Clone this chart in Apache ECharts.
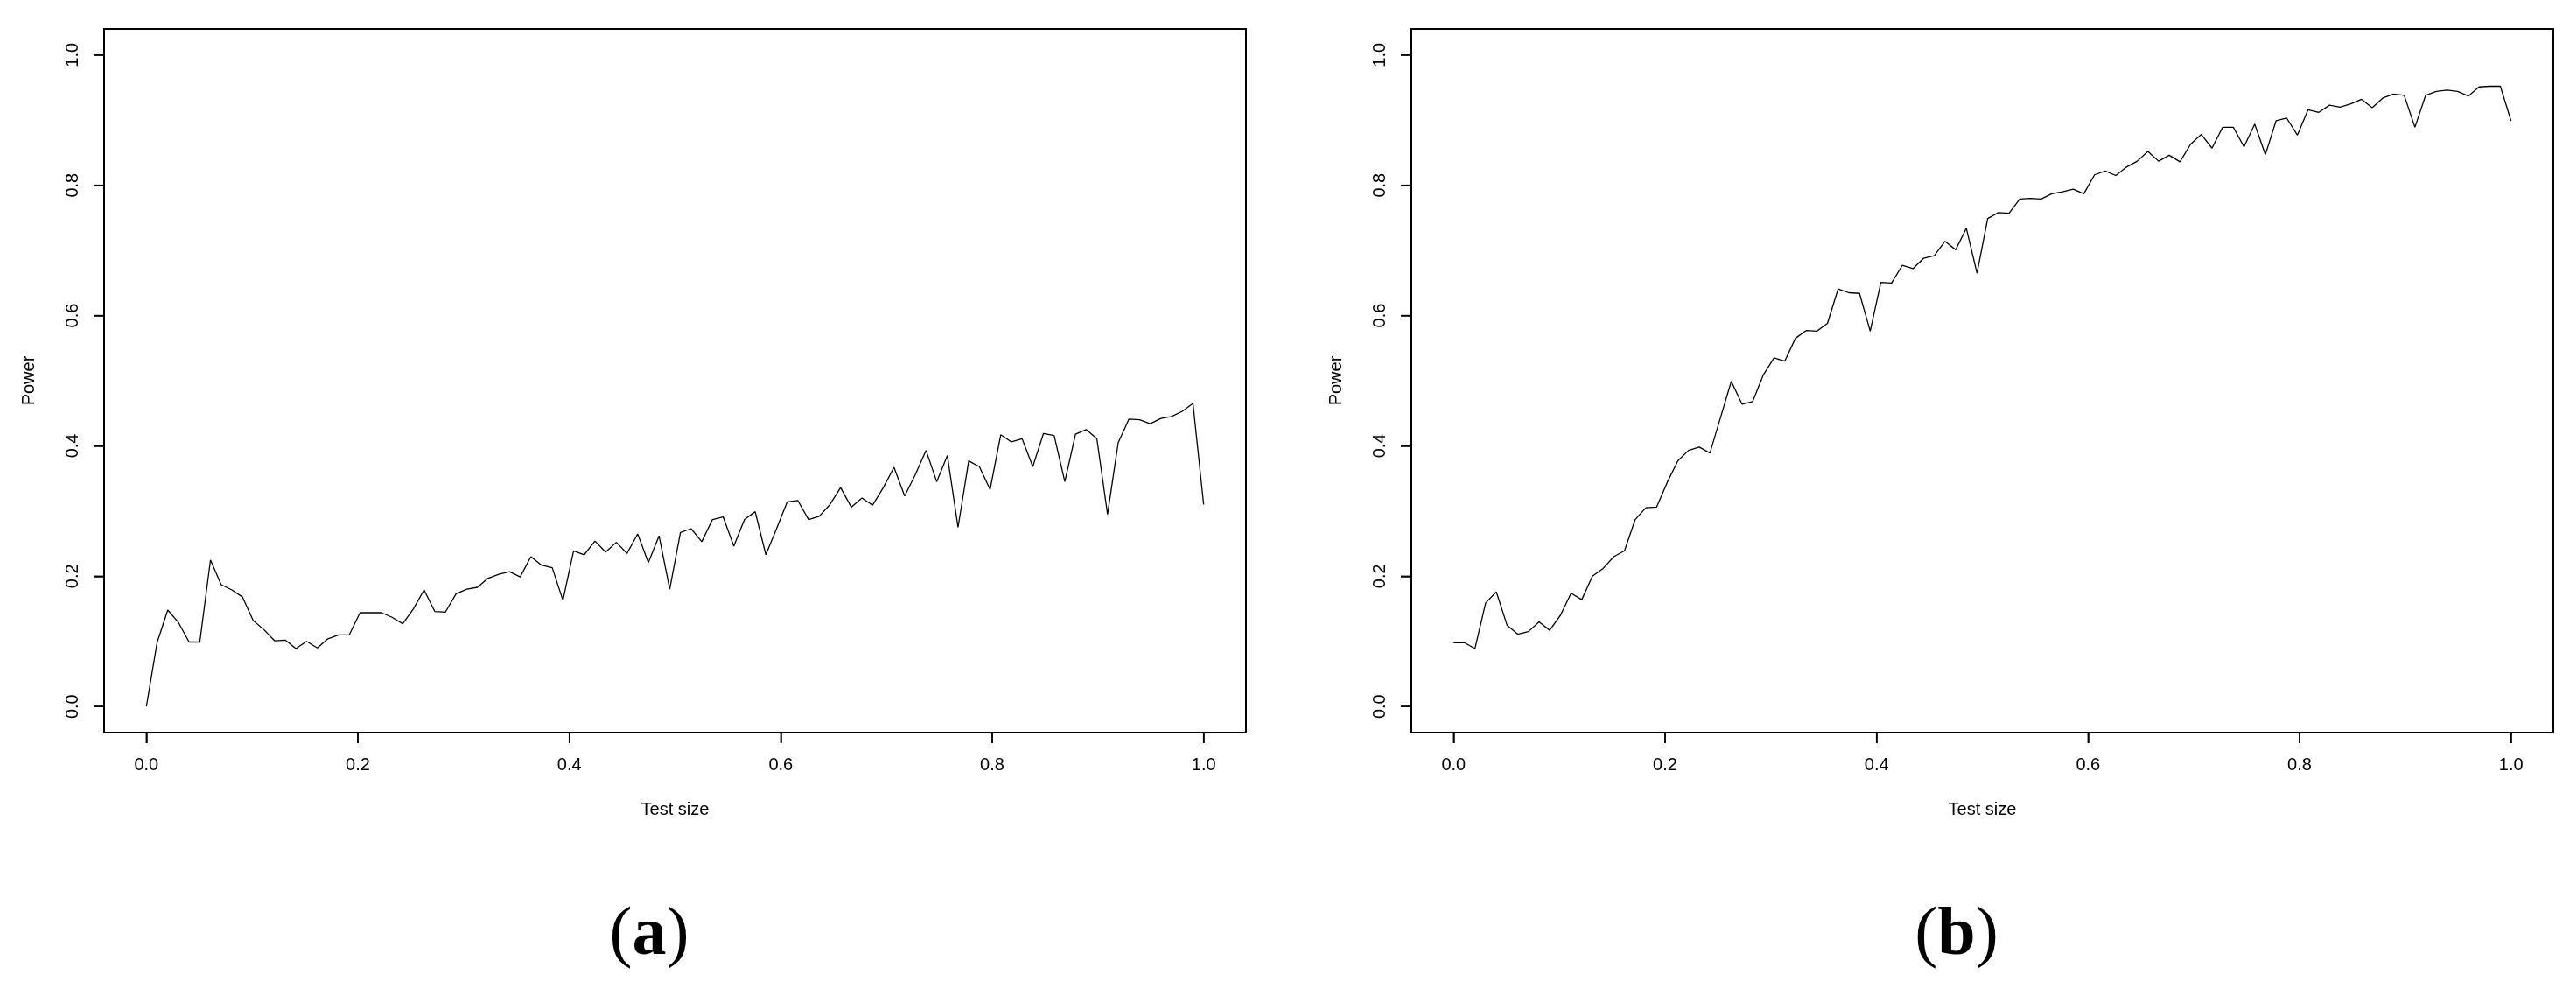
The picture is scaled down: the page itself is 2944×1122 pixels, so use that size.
<!DOCTYPE html>
<html>
<head>
<meta charset="utf-8">
<script src="https://cdn.jsdelivr.net/npm/echarts@6/dist/echarts.min.js"></script>
<style>
    html, body { margin: 0; padding: 0; background: #fff; }
    #chart { width: 2944px; height: 1122px; }
</style>
</head>
<body>
<div id="chart"></div>
<script>
// test size grid: seq(0, 1, length = 100)
const testSize = Array.from({ length: 100 }, (_, i) => i / 99)

const powerA = [
    0.000, 0.098, 0.148, 0.129, 0.099, 0.099, 0.225, 0.187, 0.179, 0.168,
    0.132, 0.118, 0.101, 0.102, 0.089, 0.100, 0.090, 0.104, 0.110, 0.110,
    0.144, 0.144, 0.144, 0.137, 0.127, 0.150, 0.179, 0.146, 0.145, 0.173,
    0.180, 0.183, 0.197, 0.203, 0.207, 0.199, 0.230, 0.217, 0.213, 0.163,
    0.239, 0.233, 0.254, 0.237, 0.252, 0.235, 0.265, 0.221, 0.262, 0.180,
    0.267, 0.273, 0.253, 0.287, 0.291, 0.246, 0.287, 0.299, 0.233, 0.273,
    0.314, 0.316, 0.287, 0.292, 0.310, 0.336, 0.306, 0.320, 0.309, 0.336,
    0.367, 0.323, 0.356, 0.393, 0.345, 0.385, 0.275, 0.377, 0.368, 0.333,
    0.417, 0.406, 0.411, 0.368, 0.419, 0.416, 0.345, 0.418, 0.425, 0.411,
    0.295, 0.405, 0.441, 0.440, 0.434, 0.442, 0.445, 0.453, 0.465, 0.310
]

const powerB = [
    0.098, 0.098, 0.089, 0.159, 0.176, 0.125, 0.111, 0.115, 0.130, 0.117,
    0.140, 0.174, 0.164, 0.200, 0.212, 0.230, 0.239, 0.287, 0.305, 0.306,
    0.344, 0.377, 0.393, 0.398, 0.389, 0.444, 0.499, 0.464, 0.468, 0.509,
    0.535, 0.530, 0.565, 0.577, 0.576, 0.588, 0.641, 0.635, 0.634, 0.576,
    0.651, 0.650, 0.677, 0.672, 0.688, 0.692, 0.714, 0.701, 0.734, 0.665,
    0.749, 0.758, 0.757, 0.779, 0.780, 0.779, 0.787, 0.790, 0.794, 0.787,
    0.816, 0.822, 0.815, 0.828, 0.837, 0.852, 0.837, 0.846, 0.836, 0.863,
    0.878, 0.857, 0.889, 0.889, 0.859, 0.894, 0.847, 0.899, 0.903, 0.877,
    0.916, 0.912, 0.923, 0.920, 0.925, 0.932, 0.919, 0.934, 0.940, 0.938,
    0.889, 0.938, 0.944, 0.946, 0.944, 0.937, 0.951, 0.952, 0.952, 0.899
]

const tickValues = [0, 0.2, 0.4, 0.6, 0.8, 1.0]
const xTitle = 'Test size'
const yTitle = 'Power'
const captions = ['a', 'b']

const FONT = '"Liberation Sans", Arial, sans-serif'

// R-style frame: box sits 4% outside the 0..1 data range on every side
const BOX = { top: 33, width: 1305, height: 804 }
const boxLeft = [119, 1613]
const padX = BOX.width * 0.04 / 1.08
const padY = BOX.height * 0.04 / 1.08
const TICK_LEN = 12

function pairs(ys) {
    return ys.map((v, i) => [testSize[i], v])
}

function makeX(gridIndex) {
    return {
        type: 'value',
        gridIndex: gridIndex,
        position: 'bottom',
        min: 0,
        max: 1,
        interval: 0.2,
        offset: padY,
        name: xTitle,
        nameLocation: 'middle',
        nameGap: 78,
        nameTextStyle: { color: '#000', fontSize: 20, fontFamily: FONT },
        axisLine: { show: false, onZero: false },
        splitLine: { show: false },
        axisTick: {
            show: true,
            inside: false,
            length: TICK_LEN,
            lineStyle: { color: '#000', width: 1.5 }
        },
        axisLabel: {
            margin: 27,
            color: '#000',
            fontSize: 20,
            fontFamily: FONT,
            formatter: (v) => v.toFixed(1)
        }
    }
}

function makeY(gridIndex) {
    return {
        type: 'value',
        gridIndex: gridIndex,
        position: 'left',
        min: 0,
        max: 1,
        interval: 0.2,
        offset: padX,
        name: yTitle,
        nameLocation: 'middle',
        nameGap: 76,
        nameRotate: 90,
        nameTextStyle: { color: '#000', fontSize: 20, fontFamily: FONT },
        axisLine: { show: false, onZero: false },
        splitLine: { show: false },
        axisTick: {
            show: true,
            inside: false,
            length: TICK_LEN,
            lineStyle: { color: '#000', width: 1.5 }
        },
        axisLabel: {
            rotate: 90,
            margin: 26,
            color: '#000',
            fontSize: 20,
            fontFamily: FONT,
            formatter: (v) => v.toFixed(1)
        }
    }
}

function makeGrid(left) {
    return {
        left: left + padX,
        top: BOX.top + padY,
        width: BOX.width - 2 * padX,
        height: BOX.height - 2 * padY
    }
}

function makeBox(left) {
    return {
        type: 'rect',
        shape: { x: left, y: BOX.top, width: BOX.width, height: BOX.height },
        style: { fill: 'none', stroke: '#000', lineWidth: 2 },
        silent: true
    }
}

function makeCaption(letter, x) {
    return {
        type: 'text',
        x: x,
        y: 1070,
        style: {
            text: '{p|(}{b|' + letter + '}{p|)}',
            align: 'center',
            verticalAlign: 'middle',
            rich: {
                p: { fontFamily: '"Liberation Serif", serif', fontSize: 78, fill: '#000' },
                b: { fontFamily: '"Liberation Serif", serif', fontSize: 78, fontWeight: 'bold', fill: '#000' }
            }
        }
    }
}

const chart = echarts.init(document.getElementById('chart'), null, { renderer: 'canvas' })

const baseGraphics = [
    makeBox(boxLeft[0]),
    makeBox(boxLeft[1]),
    makeCaption(captions[0], 742),
    makeCaption(captions[1], 2236)
]

chart.setOption({
    animation: false,
    backgroundColor: '#fff',
    grid: [makeGrid(boxLeft[0]), makeGrid(boxLeft[1])],
    xAxis: [makeX(0), makeX(1)],
    yAxis: [makeY(0), makeY(1)],
    series: [
        {
            type: 'line',
            xAxisIndex: 0,
            yAxisIndex: 0,
            data: pairs(powerA),
            showSymbol: false,
            clip: false,
            lineStyle: { color: '#000', width: 1.3 }
        },
        {
            type: 'line',
            xAxisIndex: 1,
            yAxisIndex: 1,
            data: pairs(powerB),
            showSymbol: false,
            clip: false,
            lineStyle: { color: '#000', width: 1.3 }
        }
    ],
    graphic: baseGraphics
})

// tick marks on the outside of the box, placed through the axis scales
const tickMarks = []
const boxBottom = BOX.top + BOX.height
boxLeft.forEach((left, g) => {
    tickValues.forEach((t) => {
        const px = chart.convertToPixel({ gridIndex: g }, [t, 0])[0]
        const py = chart.convertToPixel({ gridIndex: g }, [0, t])[1]
        tickMarks.push({
            type: 'line',
            silent: true,
            shape: { x1: px, y1: boxBottom, x2: px, y2: boxBottom + TICK_LEN },
            style: { stroke: '#000', lineWidth: 1.5 }
        })
        tickMarks.push({
            type: 'line',
            silent: true,
            shape: { x1: left - TICK_LEN, y1: py, x2: left, y2: py },
            style: { stroke: '#000', lineWidth: 1.5 }
        })
    })
})

chart.setOption({ graphic: baseGraphics.concat(tickMarks) })
</script>
</body>
</html>
